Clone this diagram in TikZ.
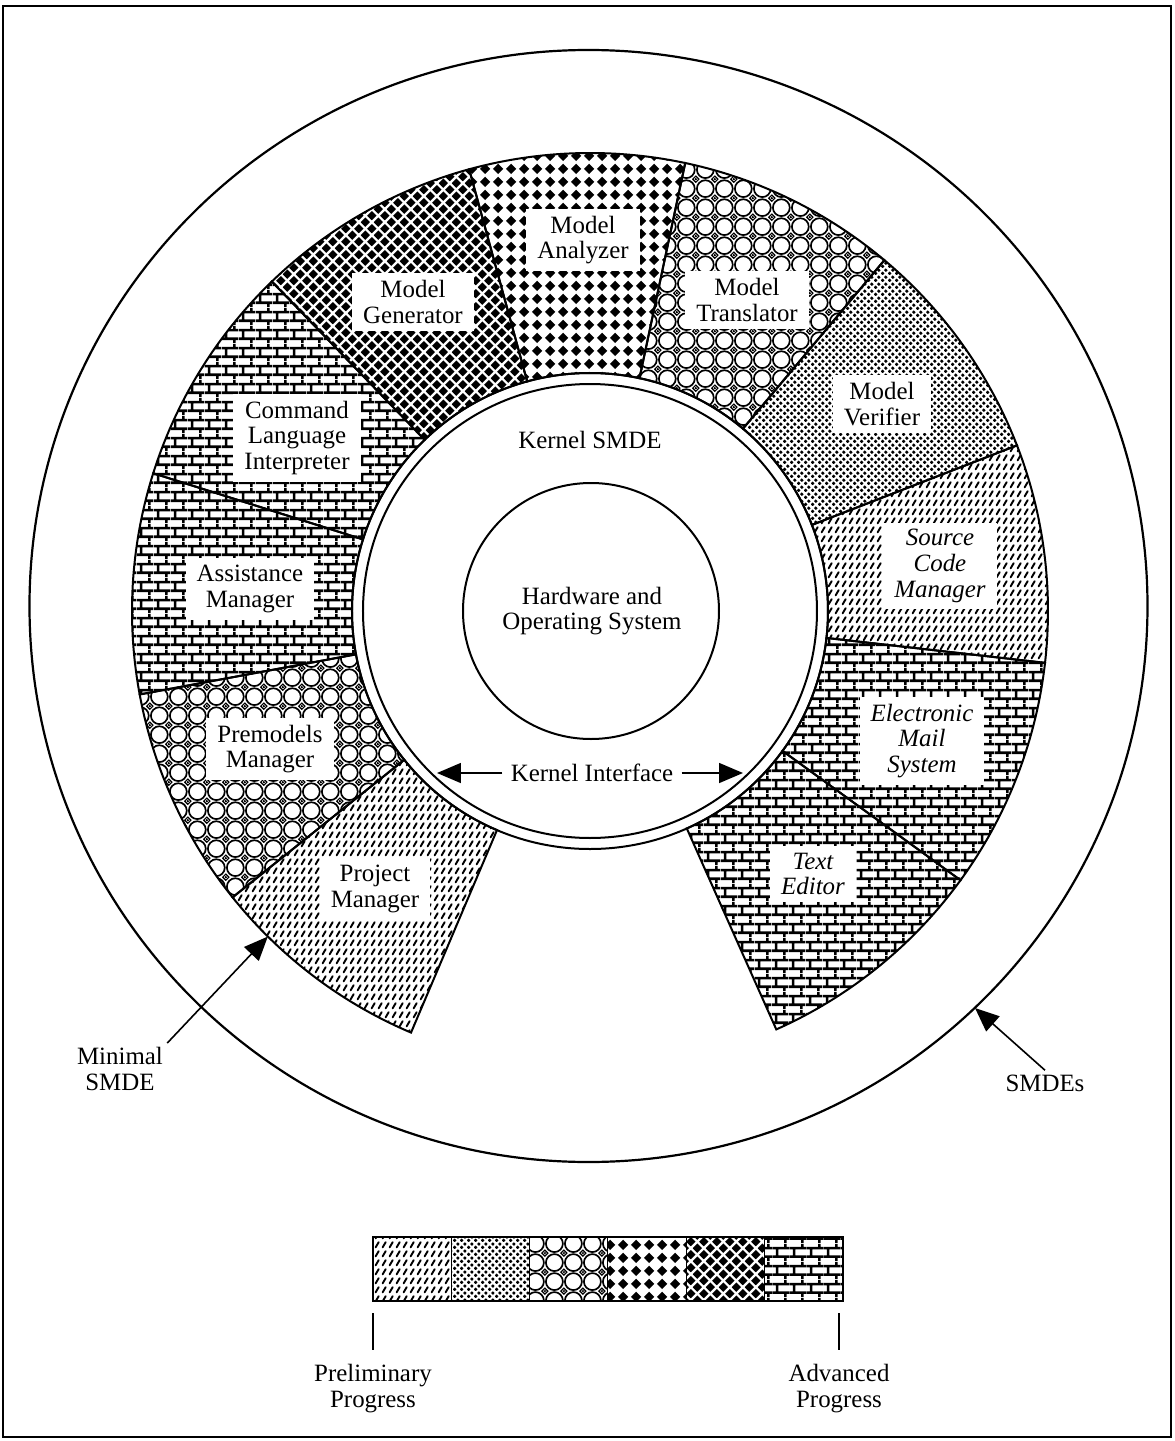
\documentclass[tikz,border=0pt]{standalone}
\usepackage{fontspec}
\setmainfont{Liberation Serif}
\usepackage{tikz}
\usetikzlibrary{arrows.meta,positioning,patterns}

\newcommand{\fonte}{\fontsize{12.45}{12.8}\selectfont}
% losango centrado em (#1,#2), meia diagonal #3
\newcommand{\losango}[3]{%
  \pgfpathmoveto{\pgfpointadd{\pgfpoint{#1}{#2}}{\pgfpoint{-#3}{0pt}}}%
  \pgfpathlineto{\pgfpointadd{\pgfpoint{#1}{#2}}{\pgfpoint{0pt}{#3}}}%
  \pgfpathlineto{\pgfpointadd{\pgfpoint{#1}{#2}}{\pgfpoint{#3}{0pt}}}%
  \pgfpathlineto{\pgfpointadd{\pgfpoint{#1}{#2}}{\pgfpoint{0pt}{-#3}}}%
  \pgfpathclose}

% padroes, do progresso preliminar ao avancado
\pgfdeclarepatternformonly{tracos}{\pgfpointorigin}{\pgfpoint{3.6pt}{4.6pt}}{\pgfpoint{3.6pt}{4.6pt}}{%
  \pgfsetlinewidth{1.05pt}\pgfsetroundcap
  \pgfpathmoveto{\pgfpoint{0.9pt}{0.9pt}}%
  \pgfpathlineto{\pgfpoint{2.6pt}{3.7pt}}%
  \pgfusepath{stroke}}
\pgfdeclarepatternformonly{pontos}{\pgfpointorigin}{\pgfpoint{3.6pt}{3.6pt}}{\pgfpoint{3.6pt}{3.6pt}}{%
  \pgfpathcircle{\pgfpoint{0.9pt}{0.9pt}}{0.98pt}%
  \pgfpathcircle{\pgfpoint{2.7pt}{2.7pt}}{0.98pt}%
  \pgfusepath{fill}}
\pgfdeclarepatternformonly{aneis}{\pgfpointorigin}{\pgfpoint{9.4pt}{9.4pt}}{\pgfpoint{9.4pt}{9.4pt}}{%
  \pgfsetlinewidth{0.85pt}%
  \pgfpathcircle{\pgfpoint{4.7pt}{4.7pt}}{4.25pt}%
  \pgfusepath{stroke}%
  \pgfsetlinewidth{0.6pt}%
  \losango{0pt}{0pt}{1.4pt}\losango{9.4pt}{0pt}{1.4pt}%
  \losango{0pt}{9.4pt}{1.4pt}\losango{9.4pt}{9.4pt}{1.4pt}%
  \pgfusepath{stroke}%
  \pgfpathcircle{\pgfpoint{0pt}{0pt}}{0.5pt}\pgfpathcircle{\pgfpoint{9.4pt}{0pt}}{0.5pt}%
  \pgfpathcircle{\pgfpoint{0pt}{9.4pt}}{0.5pt}\pgfpathcircle{\pgfpoint{9.4pt}{9.4pt}}{0.5pt}%
  \pgfusepath{fill}}
\pgfdeclarepatternformonly{losangos}{\pgfpointorigin}{\pgfpoint{6.3pt}{6.3pt}}{\pgfpoint{6.3pt}{6.3pt}}{%
  \losango{3.15pt}{3.15pt}{2.65pt}%
  \pgfusepath{fill}}
\pgfdeclarepatternformonly{trelica}{\pgfpointorigin}{\pgfpoint{6.4pt}{6.4pt}}{\pgfpoint{6.4pt}{6.4pt}}{%
  \losango{3.2pt}{0pt}{2.3pt}\losango{0pt}{3.2pt}{2.3pt}%
  \losango{6.4pt}{3.2pt}{2.3pt}\losango{3.2pt}{6.4pt}{2.3pt}%
  \pgfusepath{fill}}
\pgfdeclarepatternformonly{tijolos}{\pgfpointorigin}{\pgfpoint{8.6pt}{9pt}}{\pgfpoint{8.6pt}{9pt}}{%
  \pgfsetlinewidth{1.35pt}%
  \pgfpathmoveto{\pgfpoint{0pt}{2.25pt}}\pgfpathlineto{\pgfpoint{8.6pt}{2.25pt}}%
  \pgfpathmoveto{\pgfpoint{0pt}{6.75pt}}\pgfpathlineto{\pgfpoint{8.6pt}{6.75pt}}%
  \pgfpathmoveto{\pgfpoint{2.15pt}{2.25pt}}\pgfpathlineto{\pgfpoint{2.15pt}{6.75pt}}%
  \pgfpathmoveto{\pgfpoint{6.45pt}{6.75pt}}\pgfpathlineto{\pgfpoint{6.45pt}{9pt}}%
  \pgfpathmoveto{\pgfpoint{6.45pt}{0pt}}\pgfpathlineto{\pgfpoint{6.45pt}{2.25pt}}%
  \pgfusepath{stroke}}

\begin{document}
\begin{tikzpicture}[
  x=0.5pt, y=0.5pt,
  setor/.style={draw, line width=1pt},
  rotulo/.style={fill=white, align=center, inner xsep=5.5pt, inner ysep=3.5pt, font=\fonte},
  rotuloit/.style={rotulo, font=\fonte\itshape},
  texto/.style={align=center, inner sep=2pt, font=\fonte},
  linha/.style={line width=1pt},
  seta/.style={-{Triangle[length=12pt, width=10pt]}, line width=0.8pt}
]
  \useasboundingbox (-590,-830) rectangle (584,611);
  \draw[line width=1.2pt] (-587,605) rectangle (581,-826);

  % setores do anel
  \draw[setor, pattern=tracos] (218.7:238) arc[start angle=218.7, end angle=247, radius=238] -- (247:458) arc[start angle=247, end angle=218.7, radius=458] -- cycle;
  \draw[setor, pattern=aneis] (190.5:238) arc[start angle=190.5, end angle=218.7, radius=238] -- (218.7:458) arc[start angle=218.7, end angle=190.5, radius=458] -- cycle;
  \draw[setor, pattern=tijolos] (162.5:238) arc[start angle=162.5, end angle=190.5, radius=238] -- (190.5:458) arc[start angle=190.5, end angle=162.5, radius=458] -- cycle;
  \draw[setor, pattern=tijolos] (134:238) arc[start angle=134, end angle=162.5, radius=238] -- (162.5:458) arc[start angle=162.5, end angle=134, radius=458] -- cycle;
  \draw[setor, pattern=trelica] (105.3:238) arc[start angle=105.3, end angle=134, radius=238] -- (134:458) arc[start angle=134, end angle=105.3, radius=458] -- cycle;
  \draw[setor, pattern=losangos] (78:238) arc[start angle=78, end angle=105.3, radius=238] -- (105.3:458) arc[start angle=105.3, end angle=78, radius=458] -- cycle;
  \draw[setor, pattern=aneis] (50:238) arc[start angle=50, end angle=78, radius=238] -- (78:458) arc[start angle=78, end angle=50, radius=458] -- cycle;
  \draw[setor, pattern=pontos] (21.2:238) arc[start angle=21.2, end angle=50, radius=238] -- (50:458) arc[start angle=50, end angle=21.2, radius=458] -- cycle;
  \draw[setor, pattern=tracos] (-6.5:238) arc[start angle=-6.5, end angle=21.2, radius=238] -- (21.2:458) arc[start angle=21.2, end angle=-6.5, radius=458] -- cycle;
  \draw[setor, pattern=tijolos] (-36:238) arc[start angle=-36, end angle=-6.5, radius=238] -- (-6.5:458) arc[start angle=-6.5, end angle=-36, radius=458] -- cycle;
  \draw[setor, pattern=tijolos] (-66:238) arc[start angle=-66, end angle=-36, radius=238] -- (-36:458) arc[start angle=-36, end angle=-66, radius=458] -- cycle;

  % rotulos dos setores
  \node[rotulo] (mana) at (-7,371) {Model\\ Analyzer};
  \node[rotulo] (mger) at (-177,309) {Model\\ Generator};
  \node[rotulo] (mtra) at (157,311) {Model\\ Translator};
  \node[rotulo] (mver) at (292,207) {Model\\ Verifier};
  \node[rotuloit] (scm) at (350,45) {Source\\ Code\\ Manager};
  \node[rotuloit] (mail) at (332,-130) {Electronic\\ Mail\\ System};
  \node[rotuloit] (editor) at (223,-263) {Text\\ Editor};
  \node[rotulo] (proj) at (-215,-278) {Project\\ Manager};
  \node[rotulo] (premod) at (-320,-138) {Premodels\\ Manager};
  \node[rotulo] (assist) at (-340,22) {Assistance\\ Manager};
  \node[rotulo] (cli) at (-293,173) {Command\\ Language\\ Interpreter};

  % nucleo
  \draw[linha] (0,0) circle[radius=238];
  \draw[linha] (0,0) circle[radius=227];
  \draw[linha] (1,0) circle[radius=128];
  \node[texto] (kernel) at (0,171) {Kernel SMDE};
  \node[texto] (hw) at (2,0) {Hardware and\\ Operating System};
  \node[texto, inner xsep=4pt] (kif) at (2,-162) {Kernel Interface};
  \coordinate (kifesq) at (-153,-162);
  \coordinate (kifdir) at (153,-162);
  \draw[seta] (kif.west) -- (kifesq);
  \draw[seta] (kif.east) -- (kifdir);

  % SMDEs
  \draw[line width=1.1pt] (-1.5,5) ellipse[x radius=559, y radius=556];
  \node[texto] (minimal) at (-470,-458) {Minimal\\ SMDE};
  \coordinate (minponta) at (225.3:458);
  \draw[seta] (minimal.north east) -- (minponta);
  \node[texto] (smdes) at (455,-472) {SMDEs};
  \coordinate (smdesponta) at (385,-397);
  \draw[seta] (smdes.north) -- (smdesponta);

  % legenda
  \fill[pattern=tracos] (-217,-626) rectangle (-138.7,-690);
  \fill[pattern=pontos] (-138.7,-626) rectangle (-60.3,-690);
  \fill[pattern=aneis] (-60.3,-626) rectangle (18,-690);
  \fill[pattern=losangos] (18,-626) rectangle (96.3,-690);
  \fill[pattern=trelica] (96.3,-626) rectangle (174.7,-690);
  \fill[pattern=tijolos] (174.7,-626) rectangle (253,-690);
  \draw[line width=0.5pt] (-138.7,-626) -- (-138.7,-690) (-60.3,-626) -- (-60.3,-690)
    (18,-626) -- (18,-690) (96.3,-626) -- (96.3,-690) (174.7,-626) -- (174.7,-690);
  \draw[line width=1.3pt] (-217,-626) rectangle (253,-690);
  \coordinate (tpre) at (-217,-702);
  \coordinate (tpre2) at (-217,-739);
  \coordinate (tadv) at (249,-702);
  \coordinate (tadv2) at (249,-739);
  \draw[line width=0.6pt] (tpre) -- (tpre2);
  \draw[line width=0.6pt] (tadv) -- (tadv2);
  \node[texto, below=5pt of tpre2] (pre) {Preliminary\\ Progress};
  \node[texto, below=5pt of tadv2] (adv) {Advanced\\ Progress};
\end{tikzpicture}
\end{document}
